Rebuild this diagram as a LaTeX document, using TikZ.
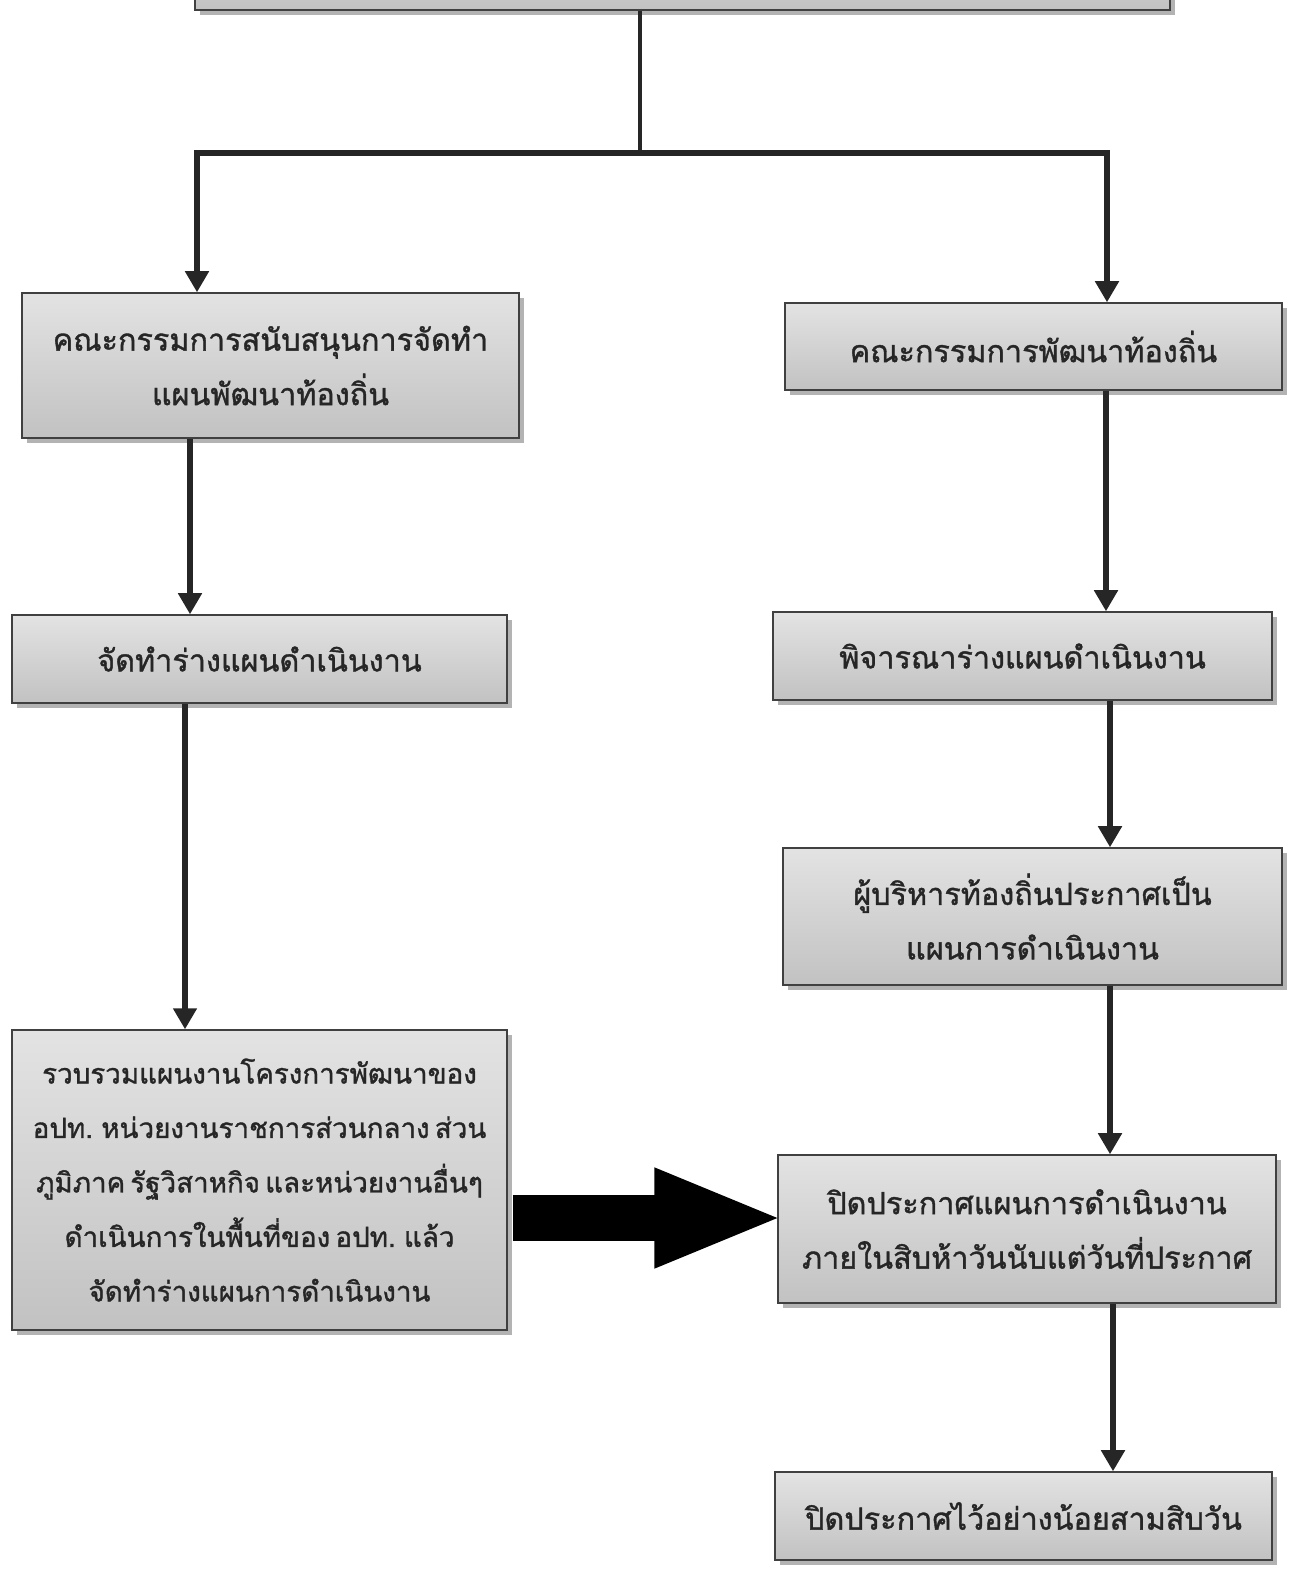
\documentclass[tikz,border=0pt]{standalone}
\usepackage{fontspec}
\newfontfamily\thaifont[Script=Thai,WordSpace=0.55,FakeBold=1.2]{Loma}
\usetikzlibrary{arrows.meta,shadows,positioning}

\begin{document}
\begin{tikzpicture}[x=0.02cm,y=-0.02cm]
\tikzstyle{lien}=[-{Triangle[length=12pt,width=13pt]},line width=3.2pt,black!85]
\tikzstyle{bloc}=[-{Triangle[length=2.6cm,width=1.8cm]},line width=0.92cm,black]
\tikzset{etape/.style={draw=black!75,line width=0.8pt,top color=gray!22,bottom color=gray!48,
drop shadow={shadow xshift=3pt,shadow yshift=-3pt,opacity=.6},
align=center,inner sep=0pt,text=black!85,
font=\thaifont\fontsize{17.4}{31}\selectfont}}
\useasboundingbox (0,0) rectangle (1294,1574);

% top box (cut by the page)
\node[etape,minimum width=19.5cm,minimum height=2cm] (T) at (682.5,-40) {};

% left column
\node[etape,minimum width=9.94cm,minimum height=2.9cm] (L1) at (270.5,365.5) {คณะกรรมการสนับสนุนการจัดทำ\\แผนพัฒนาท้องถิ่น};
\node[etape,minimum width=9.9cm,minimum height=1.76cm] (L2) at (259.5,659) {จัดทำร่างแผนดำเนินงาน};
\node[etape,minimum width=9.9cm,minimum height=6cm,font=\thaifont\fontsize{15.8}{31}\selectfont] (L3) at (259.5,1180) {รวบรวมแผนงานโครงการพัฒนาของ\\อปท. หน่วยงานราชการส่วนกลาง ส่วน\\ภูมิภาค รัฐวิสาหกิจ และหน่วยงานอื่นๆ\\ดำเนินการในพื้นที่ของ อปท. แล้ว\\จัดทำร่างแผนการดำเนินงาน};

% right column
\node[etape,minimum width=9.94cm,minimum height=1.74cm] (R1) at (1033.5,346.5) {คณะกรรมการพัฒนาท้องถิ่น};
\node[etape,minimum width=9.98cm,minimum height=1.76cm] (R2) at (1022.5,656) {พิจารณาร่างแผนดำเนินงาน};
\node[etape,minimum width=9.98cm,minimum height=2.74cm] (R3) at (1032.5,916.5) {ผู้บริหารท้องถิ่นประกาศเป็น\\แผนการดำเนินงาน};
\node[etape,minimum width=9.96cm,minimum height=2.96cm] (R4) at (1027,1229) {ปิดประกาศแผนการดำเนินงาน\\ภายในสิบห้าวันนับแต่วันที่ประกาศ};
\node[etape,minimum width=9.94cm,minimum height=1.76cm] (R5) at (1023.5,1516) {ปิดประกาศไว้อย่างน้อยสามสิบวัน};

\coordinate (J) at (640,153);
\coordinate (jl) at (197,153);
\coordinate (jr) at (1107,153);

\draw[line width=2.8pt,black!85] (T.south -| J) -- (J);
\draw[lien] (J) -- (jl) -- (jl |- L1.north);
\draw[lien] (J) -- (jr) -- (jr |- R1.north);

\draw[lien] (L1.south -| 190,0) -- (L2.north -| 190,0);
\draw[lien] (L2.south -| 185,0) -- (L3.north -| 185,0);

\draw[lien] (R1.south -| 1106,0) -- (R2.north -| 1106,0);
\draw[lien] (R2.south -| 1110,0) -- (R3.north -| 1110,0);
\draw[lien] (R3.south -| 1110,0) -- (R4.north -| 1110,0);
\draw[lien] (R4.south -| 1113,0) -- (R5.north -| 1113,0);

\draw[bloc,shorten <=3pt,shorten >=-4pt] (L3.east |- 0,1218) -- (R4.west |- 0,1218);

\end{tikzpicture}
\end{document}
